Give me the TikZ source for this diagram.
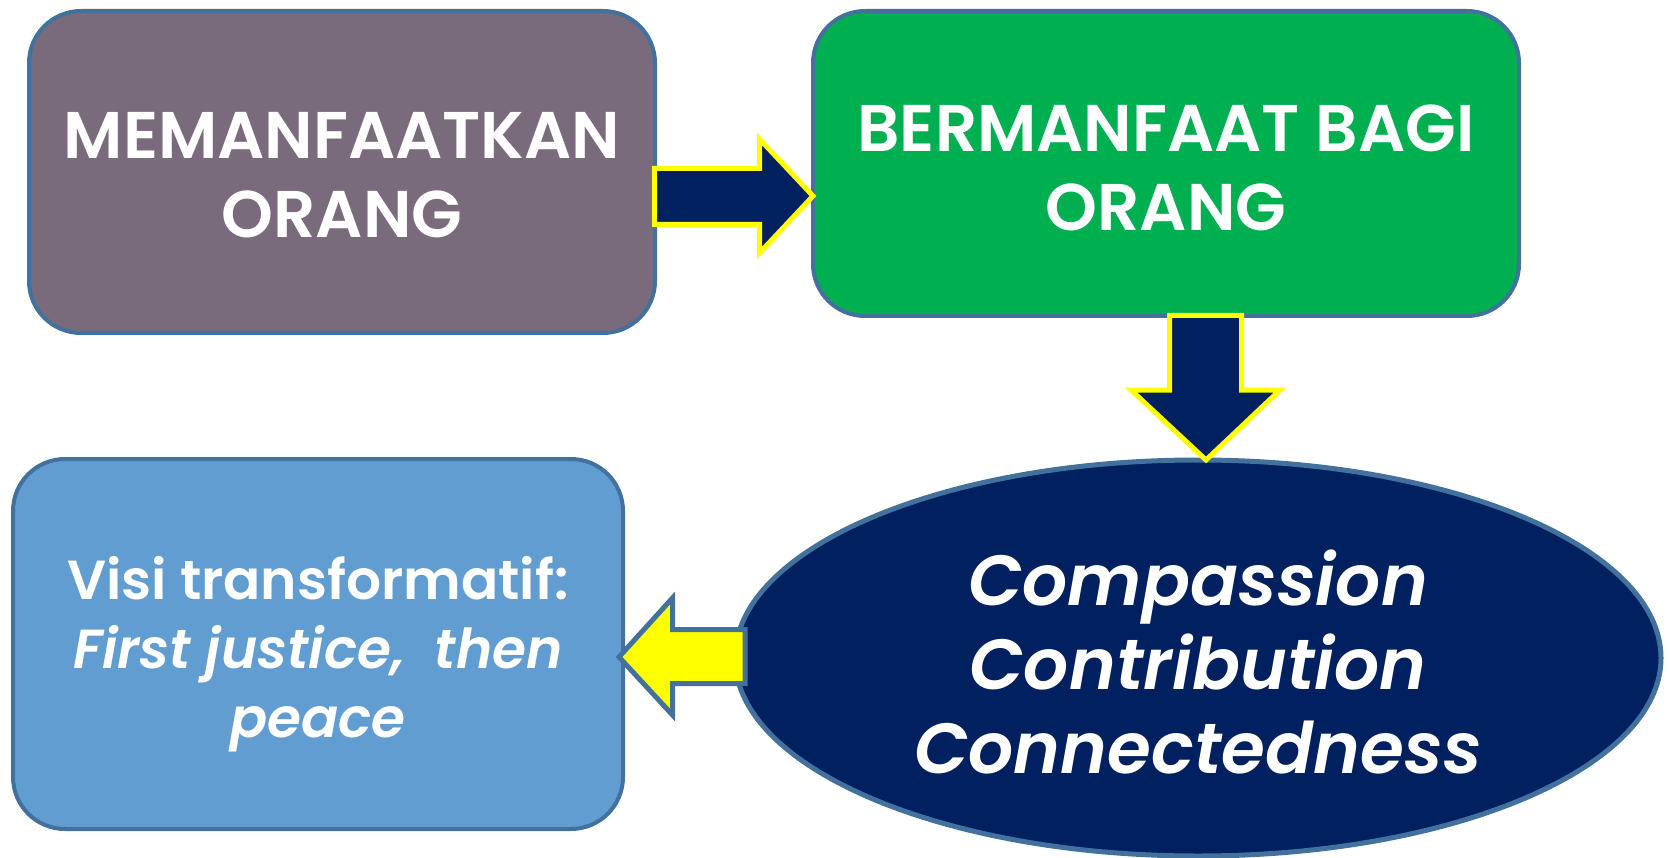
\documentclass[tikz,border=0pt]{standalone}
\usepackage{fontspec}
\setmainfont{Poppins}[BoldFont={Poppins SemiBold}, BoldItalicFont={Poppins SemiBold Italic}]
\usetikzlibrary{shapes.geometric}
\begin{document}
\begin{tikzpicture}[x=1pt,y=-1pt,
  box/.style={draw=bordc, line width=4pt, rounded corners=52pt, inner sep=0pt},
  txt/.style={text=white, align=center, inner sep=0pt, font=\bfseries\fontsize{66}{79}\selectfont},
  bluearrow/.style={fill=navy, draw=yel, line width=5pt, line join=miter},
  yelarrow/.style={fill=yel, draw=bordc, line width=5pt, line join=miter}]
\definecolor{bordc}{HTML}{41719C}
\definecolor{navy}{HTML}{002060}
\definecolor{yel}{HTML}{FFFF00}
\definecolor{purp}{HTML}{7A6B7C}
\definecolor{grn}{HTML}{00B050}
\definecolor{lblue}{HTML}{629DD1}
\useasboundingbox (0,0) rectangle (1670,858);
\fill[white] (0,0) rectangle (1670,858);
\node[box, fill=purp, minimum width=626pt, minimum height=322pt] (b1) at (342,172) {};
\node[txt] (t1) at ([yshift=-3pt]b1.center) {MEMANFAATKAN\\ORANG};
\node[box, fill=grn, minimum width=706pt, minimum height=305pt] (b2) at (1166,163.5) {};
\node[txt] (t2) at ([yshift=-4pt]b2.center) {BERMANFAAT BAGI\\ORANG};
\node[draw=bordc, line width=5pt, ellipse, fill=navy, minimum width=926pt, minimum height=396pt, inner sep=0pt] (el) at (1198,658) {};
\node[txt, font=\bfseries\itshape\fontsize{71}{84}\selectfont] (t3) at ([yshift=-4pt]el.center) {Compassion\\Contribution\\Connectedness};
\node[box, fill=lblue, minimum width=610pt, minimum height=370pt] (b3) at (318,644) {};
\node[txt, font=\bfseries\fontsize{55}{69}\selectfont] (t4) at ([yshift=-10pt]b3.center) {Visi transformatif:\\\textit{First justice,~ then}\\\textit{peace}};
% arrow b1 -> b2
\draw[bluearrow] (654.5,168.5) -- (759.5,168.5) -- (759.5,139) -- (813,196) -- (759.5,253) -- (759.5,224.5) -- (654.5,224.5) -- cycle;
% arrow b2 -> el
\draw[bluearrow] (1169.5,315.5) -- (1241.5,315.5) -- (1241.5,390) -- (1280,390) -- (1206,460) -- (1131,390) -- (1169.5,390) -- cycle;
% arrow el -> b3
\draw[yelarrow] (745,629.5) -- (672.5,629.5) -- (672.5,598) -- (619,657) -- (672.5,715) -- (672.5,683.5) -- (745,683.5) -- cycle;
\end{tikzpicture}
\end{document}
